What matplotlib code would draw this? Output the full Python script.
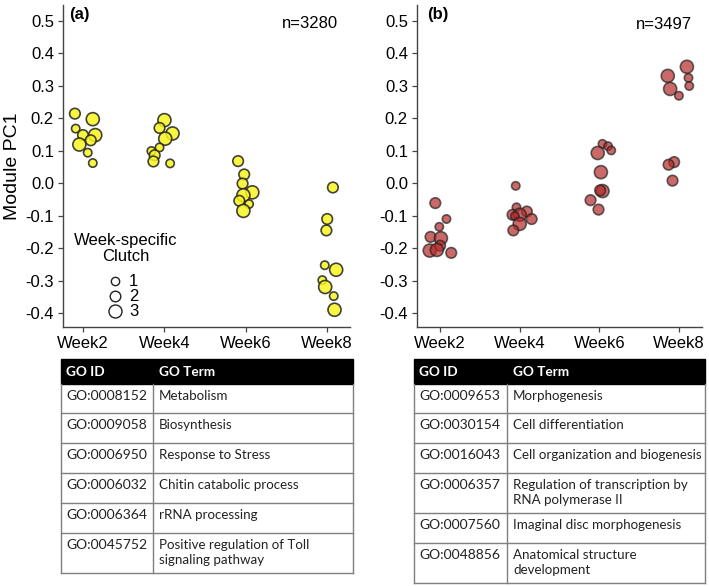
import matplotlib
matplotlib.use("Agg")
import matplotlib.pyplot as plt
from matplotlib.patches import Rectangle

plt.rcParams['font.family'] = ['Liberation Sans', 'DejaVu Sans']

weeks = ['Week2', 'Week4', 'Week6', 'Week8']

# panel (a): week index, horizontal jitter, PC1 value, week-specific clutch
a_week = [1] * 9 + [2] * 9 + [3] * 8 + [4] * 9
a_jitter = [-0.10, 0.12, -0.09, 0.00, 0.15, 0.095, -0.045, 0.058, 0.12,
            0.00, -0.06, 0.10, 0.01, -0.06, -0.16, -0.12, -0.135, 0.07,
            -0.095, -0.02, -0.04, 0.08, -0.03, -0.08, 0.04, -0.03,
            0.07, 0.00, -0.01, -0.03, 0.11, -0.06, -0.025, 0.08, 0.09]
a_pc1 = [0.214, 0.197, 0.168, 0.148, 0.148, 0.132, 0.119, 0.094, 0.062,
         0.194, 0.170, 0.153, 0.137, 0.110, 0.099, 0.086, 0.067, 0.061,
         0.068, 0.027, -0.001, -0.028, -0.037, -0.054, -0.064, -0.085,
         -0.013, -0.110, -0.145, -0.252, -0.266, -0.298, -0.319, -0.347, -0.389]
a_clutch = [2, 3, 1, 2, 3, 2, 3, 1, 1,
            3, 2, 3, 3, 1, 1, 2, 2, 1,
            2, 2, 2, 3, 3, 2, 1, 3,
            2, 2, 2, 1, 3, 1, 3, 1, 3]

# panel (b)
b_week = [1] * 9 + [2] * 9 + [3] * 9 + [4] * 9
b_jitter = [-0.06, 0.08, -0.01, -0.12, 0.01, 0.00, -0.13, -0.04, 0.14,
            -0.05, -0.04, 0.09, -0.09, 0.00, -0.06, 0.15, 0.00, -0.08,
            0.04, 0.11, -0.02, 0.15, 0.02, 0.04, 0.01, -0.11, -0.01,
            0.10, -0.14, 0.12, 0.13, -0.11, 0.00, -0.06, -0.13, -0.08]
b_pc1 = [-0.061, -0.110, -0.134, -0.165, -0.169, -0.192, -0.207, -0.205, -0.214,
         -0.008, -0.074, -0.087, -0.097, -0.097, -0.101, -0.110, -0.125, -0.145,
         0.121, 0.114, 0.093, 0.101, 0.034, -0.024, -0.022, -0.052, -0.081,
         0.358, 0.330, 0.324, 0.299, 0.290, 0.269, 0.065, 0.057, 0.008]
b_clutch = [2, 1, 1, 2, 3, 2, 3, 3, 2,
            1, 1, 2, 2, 3, 1, 2, 3, 2,
            1, 1, 3, 1, 3, 3, 2, 2, 2,
            3, 3, 1, 1, 3, 1, 2, 2, 2]

a_n = 'n=3280'
b_n = 'n=3497'

a_go_ids = ['GO:0008152', 'GO:0009058', 'GO:0006950', 'GO:0006032', 'GO:0006364', 'GO:0045752']
a_go_terms = ['Metabolism', 'Biosynthesis', 'Response to Stress', 'Chitin catabolic process',
              'rRNA processing', 'Positive regulation of Toll\nsignaling pathway']
b_go_ids = ['GO:0009653', 'GO:0030154', 'GO:0016043', 'GO:0006357', 'GO:0007560', 'GO:0048856']
b_go_terms = ['Morphogenesis', 'Cell differentiation', 'Cell organization and biogenesis',
              'Regulation of transcription by\nRNA polymerase II', 'Imaginal disc morphogenesis',
              'Anatomical structure\ndevelopment']

clutch_size = {1: 36, 2: 58, 3: 88}


def draw_panel(ax, week, jitter, pc1, clutch, color, alpha, tag, ntext, xlim):
    xs = [w + j for w, j in zip(week, jitter)]
    ax.scatter(xs, pc1, s=[clutch_size[c] for c in clutch], c=color, alpha=alpha,
               edgecolors='#222222', linewidths=1.2, zorder=3)
    ax.set_xlim(*xlim)
    ax.set_ylim(-0.442, 0.548)
    ax.set_xticks([1, 2, 3, 4])
    ax.set_xticklabels(weeks)
    ax.set_yticks([-0.4, -0.3, -0.2, -0.1, 0.0, 0.1, 0.2, 0.3, 0.4, 0.5])
    ax.set_yticklabels(['%.1f' % v for v in ax.get_yticks()])
    for s in ['top', 'right']:
        ax.spines[s].set_visible(False)
    for s in ['left', 'bottom']:
        ax.spines[s].set_color('#444444')
        ax.spines[s].set_linewidth(1.0)
    ax.tick_params(labelsize=12, length=3.5, width=0.9, color='#444444', pad=3)
    ax.text(tag[1], tag[2], tag[0], transform=ax.transAxes, fontsize=12,
            fontweight='bold', ha='left', va='center')
    ax.text(ntext[1], ntext[2], ntext[0], transform=ax.transAxes, fontsize=12,
            ha='right', va='center')


def draw_table(ax, x0, x1, xdiv, edges, ids, terms):
    ax.add_patch(Rectangle((x0, edges[0]), x1 - x0, edges[1] - edges[0],
                           facecolor='black', edgecolor='black'))
    hy = (edges[0] + edges[1]) / 2 + 0.5
    ax.text(x0 + 5, hy, 'GO ID', color='white', fontweight='bold', fontsize=9.8,
            ha='left', va='center', family='Lato')
    ax.text(xdiv + 6, hy, 'GO Term', color='white', fontweight='bold', fontsize=9.8,
            ha='left', va='center', family='Lato')
    gc = '#7f7f7f'
    for e in edges[2:]:
        ax.plot([x0, x1], [e, e], color=gc, lw=1.0)
    ax.plot([x0, x0], [edges[1], edges[-1]], color=gc, lw=1.0)
    ax.plot([x1, x1], [edges[1], edges[-1]], color=gc, lw=1.0)
    ax.plot([xdiv, xdiv], [edges[1], edges[-1]], color=gc, lw=1.0)
    for i in range(len(ids)):
        top = edges[i + 1]
        ax.text(x0 + 5, top + 12, ids[i], fontsize=10, ha='left', va='center',
                family='Lato', color='#222222')
        lines = terms[i].split('\n')
        for k, line in enumerate(lines):
            ax.text(xdiv + 6, top + 12 + 15 * k, line, fontsize=9.6, ha='left',
                    va='center', family='Lato', color='#222222')


fig = plt.figure(figsize=(7.09, 5.86), dpi=100)

ax_a = fig.add_axes([63 / 709, 1 - 327 / 586, 287 / 709, 322 / 586])
ax_b = fig.add_axes([417 / 709, 1 - 327 / 586, 285 / 709, 322 / 586])

draw_panel(ax_a, a_week, a_jitter, a_pc1, a_clutch, '#f9f51f', 0.85,
           ('(a)', 0.02, 0.969), (a_n, 0.958, 0.944), (0.754, 4.28))
draw_panel(ax_b, b_week, b_jitter, b_pc1, b_clutch, '#b52a2a', 0.7,
           ('(b)', 0.035, 0.969), (b_n, 0.965, 0.938), (0.71, 4.29))
ax_a.set_ylabel('Module PC1', fontsize=14, labelpad=3)

# size legend: title drawn as plain text, entries as a legend below it
ax_a.text(0.22, 0.245, 'Week-specific\nClutch', transform=ax_a.transAxes, fontsize=12,
          ha='center', va='center', multialignment='center', linespacing=1.1)
handles = [ax_a.scatter([], [], s=clutch_size[c], facecolors='white', edgecolors='#222222',
                        linewidths=1.0) for c in [1, 2, 3]]
leg = ax_a.legend(handles, ['1', '2', '3'], frameon=False, loc='center',
                  bbox_to_anchor=(0.205, 0.096), fontsize=12, labelspacing=0.0,
                  handletextpad=0.2, borderpad=0.0, scatterpoints=1, handlelength=1.2)

# GO tables
tab = fig.add_axes([0, 0, 1, 1])
tab.set_xlim(0, 709)
tab.set_ylim(586, 0)
tab.axis('off')
draw_table(tab, 61, 353, 153, [359, 384, 413, 443, 473, 503, 533, 573], a_go_ids, a_go_terms)
draw_table(tab, 414, 705, 507, [359, 384, 413, 443, 473, 513, 543, 583], b_go_ids, b_go_terms)

fig.savefig('out.png', dpi=100)
